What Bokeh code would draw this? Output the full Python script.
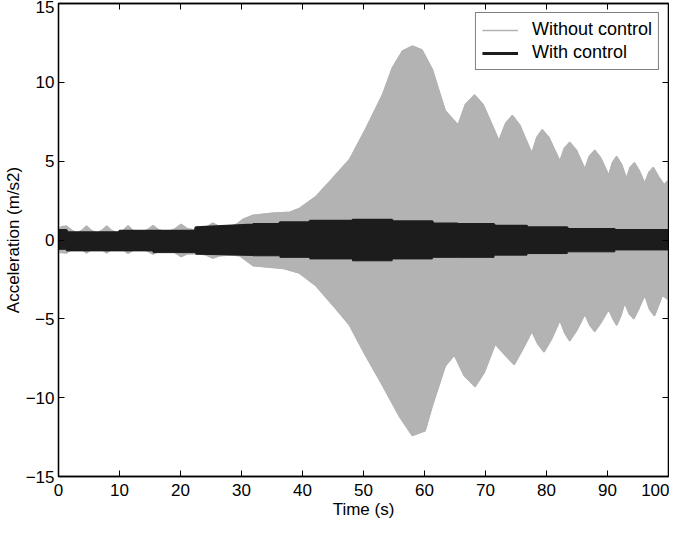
from bokeh.plotting import figure
from bokeh.models import Range1d, FixedTicker, LinearAxis, Legend, LegendItem
from bokeh.embed import file_html
from bokeh.resources import INLINE

# ---- data ----
x_ticks = [0, 10, 20, 30, 40, 50, 60, 70, 80, 90, 100]
y_ticks = [-15, -10, -5, 0, 5, 10, 15]

# Without control: envelope of the acceleration (upper side)
t_free_up = [0, 0.6, 1.3, 2.2, 3.0, 3.8, 4.6, 5.4, 6.3, 7.1, 7.9, 8.7, 9.7, 10.6, 11.4, 12.2,
             13.5, 14.6, 15.5, 16.4, 17.8, 19.1, 20.1, 21.1, 23.0, 24.2, 25.3, 26.4, 28.2,
             29.2, 30.2, 31.9, 35.0, 37.9, 39.5, 42.2, 44.9, 47.7, 50.3, 53.1, 54.7, 56.4,
             58.0, 59.6, 61.3, 63.4, 65.5, 66.7, 68.2, 69.6, 72.2, 73.3, 74.4, 75.6, 77.6,
             78.4, 79.3, 80.4, 82.2, 82.9, 83.8, 84.9, 86.3, 87.0, 87.9, 88.9, 90.2, 90.8,
             91.5, 92.3, 93.1, 93.7, 94.4, 95.2, 96.1, 96.8, 97.5, 98.4, 99.3, 100]
free_up = [0.75, 0.85, 0.88, 0.6, 0.45, 0.6, 0.88, 0.6, 0.45, 0.6, 0.88, 0.6, 0.45, 0.6, 0.9, 0.6,
           0.45, 0.65, 0.92, 0.65, 0.5, 0.7, 1.0, 0.72, 0.6, 0.8, 1.07, 0.85, 0.85,
           1.0, 1.3, 1.57, 1.7, 1.76, 2.0, 2.76, 3.9, 5.1, 7.0, 9.2, 10.9, 12.0,
           12.3, 12.05, 10.8, 8.2, 7.3, 8.6, 9.2, 8.6, 6.3, 7.4, 7.9, 7.3, 5.5,
           6.5, 7.0, 6.5, 5.0, 5.8, 6.2, 5.7, 4.5, 5.3, 5.7, 5.2, 4.1, 4.9,
           5.3, 4.8, 3.9, 4.6, 4.9, 4.4, 3.6, 4.3, 4.6, 4.0, 3.5, 3.8]

# Without control: envelope (lower side)
t_free_low = [0, 0.6, 1.3, 2.2, 3.0, 3.8, 4.6, 5.4, 6.3, 7.1, 7.9, 8.7, 9.7, 10.6, 11.4, 12.2,
              13.5, 14.6, 15.5, 16.4, 17.8, 19.1, 20.1, 21.1, 23.0, 24.2, 25.3, 26.4, 28.2,
              29.7, 31.9, 36.8, 39.5, 42.2, 44.9, 47.7, 50.3, 53.1, 55.9, 58.0, 60.1, 61.3,
              63.4, 64.9, 66.5, 68.3, 69.8, 71.6, 73.2, 74.7, 76.0, 77.6, 78.6, 79.6, 80.8,
              82.2, 83.0, 83.8, 85.0, 86.3, 87.1, 87.9, 89.0, 90.2, 90.9, 91.5, 92.2, 92.8,
              93.6, 94.3, 95.2, 96.1, 96.9, 97.7, 98.4, 99.0, 100]
free_low = [-0.8, -0.8, -0.82, -0.6, -0.5, -0.6, -0.82, -0.6, -0.5, -0.6, -0.82, -0.6, -0.5, -0.6, -0.85, -0.65,
            -0.55, -0.7, -0.9, -0.72, -0.65, -0.8, -1.05, -0.88, -0.85, -0.95, -1.15, -1.0, -0.95,
            -1.0, -1.63, -1.8, -2.1, -2.9, -4.1, -5.4, -7.3, -9.2, -11.2, -12.4, -12.1, -10.5,
            -8.0, -7.3, -8.6, -9.3, -8.4, -6.6, -7.3, -7.9, -7.0, -5.8, -6.6, -7.1, -6.3,
            -5.1, -5.9, -6.4, -5.7, -4.7, -5.4, -5.8, -5.2, -4.4, -5.0, -5.4, -4.8, -4.0,
            -4.7, -5.0, -4.3, -3.5, -4.4, -4.8, -4.1, -3.5, -3.8]

# With control: envelope (upper and lower sides)
t_ctrl = [0, 1.3, 1.3, 10.0, 10.0, 15.5, 15.5, 22.5, 22.5, 31.9, 31.9, 36.3, 36.3, 41.2, 41.2,
          48.2, 48.2, 54.7, 54.7, 61.3, 61.3, 65.4, 65.4, 71.4, 71.4, 76.8, 76.8, 83.4, 83.4,
          91.2, 91.2, 100]
ctrl_up = [0.61, 0.61, 0.46, 0.46, 0.56, 0.56, 0.56, 0.56, 0.77, 0.95, 0.98, 0.98, 1.09, 1.09, 1.19,
           1.19, 1.26, 1.26, 1.15, 1.15, 1.02, 1.02, 0.98, 0.98, 0.88, 0.88, 0.77, 0.77, 0.67,
           0.67, 0.61, 0.61]
ctrl_low = [-0.59, -0.59, -0.69, -0.69, -0.69, -0.69, -0.8, -0.8, -0.9, -0.98, -1.0, -1.0, -1.1, -1.1, -1.2,
            -1.2, -1.32, -1.32, -1.2, -1.2, -1.1, -1.1, -1.1, -1.1, -0.96, -0.96, -0.86, -0.86, -0.75,
            -0.75, -0.63, -0.63]

series_names = ["Without control", "With control"]

GRAY = "#b3b3b3"
BLACK = "#1c1c1c"
FONT = "Liberation Sans"
FS = "17px"

p = figure(width=669, height=521, output_backend="svg", toolbar_location=None,
           x_range=Range1d(0, 100), y_range=Range1d(-15, 15),
           min_border_left=40, min_border_right=1, min_border_top=3, min_border_bottom=40)
p.xgrid.visible = False
p.ygrid.visible = False
p.outline_line_color = "black"
p.outline_line_width = 1.3

# Without control (grey)
free_x = list(t_free_up) + list(reversed(t_free_low))
free_y = list(free_up) + list(reversed(free_low))
p.patch(free_x, free_y, fill_color=GRAY, line_color=GRAY, line_width=1)
r_free = p.line(t_free_up, free_up, line_color=GRAY, line_width=1.5)
p.line(t_free_low, free_low, line_color=GRAY, line_width=1.5)

# With control (black)
p.varea(x=t_ctrl, y1=ctrl_low, y2=ctrl_up, fill_color=BLACK)
r_ctrl = p.line(t_ctrl, ctrl_up, line_color=BLACK, line_width=3)
p.line(t_ctrl, ctrl_low, line_color=BLACK, line_width=1)

# axes
for ax, tk in ((p.xaxis[0], x_ticks), (p.yaxis[0], y_ticks)):
    ax.ticker = FixedTicker(ticks=tk)
    ax.major_tick_in = 6
    ax.major_tick_out = 0
    ax.minor_tick_line_color = None
    ax.axis_line_width = 1.3
    ax.major_tick_line_width = 1
    ax.major_label_text_font = FONT
    ax.major_label_text_font_size = FS
    ax.major_label_text_color = "black"
    ax.axis_label_text_font = FONT
    ax.axis_label_text_font_size = FS
    ax.axis_label_text_font_style = "normal"
    ax.axis_label_text_color = "black"

p.xaxis[0].axis_label = "Time (s)"
p.yaxis[0].axis_label = "Acceleration (m/s2)"
p.xaxis[0].major_label_standoff = 7
p.xaxis[0].axis_label_standoff = 1
p.yaxis[0].major_label_standoff = 4
p.yaxis[0].axis_label_standoff = 0

for loc, tk in (("above", x_ticks), ("right", y_ticks)):
    ax = LinearAxis(ticker=FixedTicker(ticks=tk), major_tick_in=6, major_tick_out=0,
                    minor_tick_line_color=None, major_label_text_font_size="1px",
                    major_label_text_color=None,
                    major_label_standoff=0, axis_line_width=1.3)
    p.add_layout(ax, loc)

legend = Legend(items=[LegendItem(label=series_names[0], renderers=[r_free]),
                       LegendItem(label=series_names[1], renderers=[r_ctrl])],
                location="top_right")
legend.label_text_font = FONT
legend.label_text_font_size = "18px"
legend.label_text_color = "black"
legend.border_line_color = "black"
legend.border_line_width = 1
legend.background_fill_color = "white"
legend.background_fill_alpha = 1
legend.margin = 9
legend.padding = 6
legend.spacing = 2
legend.glyph_width = 36
legend.glyph_height = 20
legend.label_height = 20
legend.label_standoff = 14
p.add_layout(legend)

open("out.html", "w").write(file_html(p, INLINE))
